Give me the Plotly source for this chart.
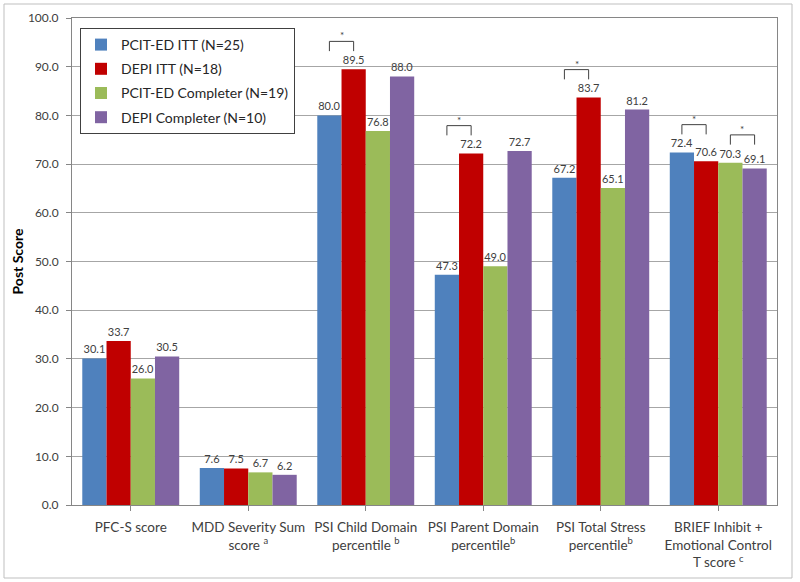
import plotly.graph_objects as go

categories = [
    "PFC-S score",
    "MDD Severity Sum<br>score <sup>a</sup>",
    "PSI Child Domain<br>percentile <sup>b</sup>",
    "PSI Parent Domain<br>percentile<sup>b</sup>",
    "PSI Total Stress<br>percentile<sup>b</sup>",
    "BRIEF Inhibit +<br>Emotional Control<br>T score <sup>c</sup>",
]
series_names = ["PCIT-ED ITT (N=25)", "DEPI ITT (N=18)", "PCIT-ED Completer (N=19)", "DEPI Completer (N=10)"]
pcit_itt = [30.1, 7.6, 80.0, 47.3, 67.2, 72.4]
depi_itt = [33.7, 7.5, 89.5, 72.2, 83.7, 70.6]
pcit_comp = [26.0, 6.7, 76.8, 49.0, 65.1, 70.3]
depi_comp = [30.5, 6.2, 88.0, 72.7, 81.2, 69.1]
colors = ["#4F81BD", "#C00000", "#9BBB59", "#8064A2"]
# significance brackets: (category index, bar a, bar b)
sig_pairs = [(2, 0, 1), (3, 0, 1), (4, 0, 1), (5, 0, 1), (5, 2, 3)]
y_ticks = [0, 10, 20, 30, 40, 50, 60, 70, 80, 90, 100]

series = [pcit_itt, depi_itt, pcit_comp, depi_comp]
FONT = "Lato, 'Open Sans', sans-serif"

fig = go.Figure()
for i, (name, vals, col) in enumerate(zip(series_names, series, colors)):
    fig.add_trace(go.Bar(
        x=list(range(len(categories))), y=vals, name=name, marker_color=col,
        marker_line_width=0,
        text=[f"{v:.1f}" for v in vals], textposition="outside",
        textfont=dict(size=11, color="#404040", family=FONT),
        cliponaxis=False, legendgroup=f"g{i}",
    ))

bargap = 0.175
nb = len(series)
bw = (1 - bargap) / nb

def bar_center(ci, k):
    return ci - (1 - bargap) / 2 + bw * (k + 0.5)

for ci, a, b in sig_pairs:
    top = max(series[a][ci], series[b][ci])
    x0, x1 = bar_center(ci, a), bar_center(ci, b)
    y0, y1 = top + 3.7, top + 5.7
    fig.add_shape(type="path", xref="x", yref="y",
                  path=f"M {x0} {y0} L {x0} {y1} L {x1} {y1} L {x1} {y0}",
                  line=dict(color="#404040", width=1))
    fig.add_annotation(x=(x0 + x1) / 2, y=y1, text="*", showarrow=False,
                       yanchor="bottom", yshift=-2, font=dict(size=10, color="#404040", family=FONT))

# outer chart frame
L, R, T, B = 72, 23, 18, 77
pw, ph = 800 - L - R, 582 - T - B
fig.add_shape(type="rect", xref="paper", yref="paper",
              x0=(4 - L) / pw, x1=(792 - L) / pw, y0=-(578 - (582 - B)) / ph, y1=1 + (T - 4) / ph,
              line=dict(color="#BFBFBF", width=1), layer="below")

fig.update_layout(
    width=800, height=582,
    margin=dict(l=L, r=R, t=T, b=B, autoexpand=False),
    paper_bgcolor="white", plot_bgcolor="white",
    barmode="group", bargap=bargap, bargroupgap=0,
    font=dict(family=FONT, color="#404040"),
    showlegend=True,
    legend=dict(x=(80 - L) / pw, y=1 - (28 - T) / ph, xanchor="left", yanchor="top",
                bordercolor="#404040", borderwidth=1, bgcolor="white",
                font=dict(size=14, color="#262626", family=FONT),
                tracegroupgap=3, itemwidth=30),
)
fig.update_xaxes(
    tickmode="array", tickvals=list(range(len(categories))), ticktext=categories,
    range=[-0.5, len(categories) - 0.5], automargin=False,
    tickson="boundaries", ticks="outside", ticklen=5, tickcolor="#868686",
    showline=True, linecolor="#868686", mirror=True, ticklabelstandoff=5,
    tickfont=dict(size=13.5, color="#404040", family=FONT), showgrid=False,
)
fig.update_yaxes(
    range=[0, 100], tickvals=y_ticks, tickformat=".1f", automargin=False,
    ticks="outside", ticklen=5, tickcolor="#868686", ticklabelstandoff=5,
    showline=True, linecolor="#868686", mirror=True,
    gridcolor="#A6A6A6", gridwidth=1,
    tickfont=dict(size=12, color="#404040", family=FONT),
    title=dict(text="<b>Post Score</b>", font=dict(size=14, color="#000000", family=FONT), standoff=1),
    zeroline=False,
)
fig.write_html("out.html", post_script="document.body.style.margin='0';",
               config={"displayModeBar": False})
